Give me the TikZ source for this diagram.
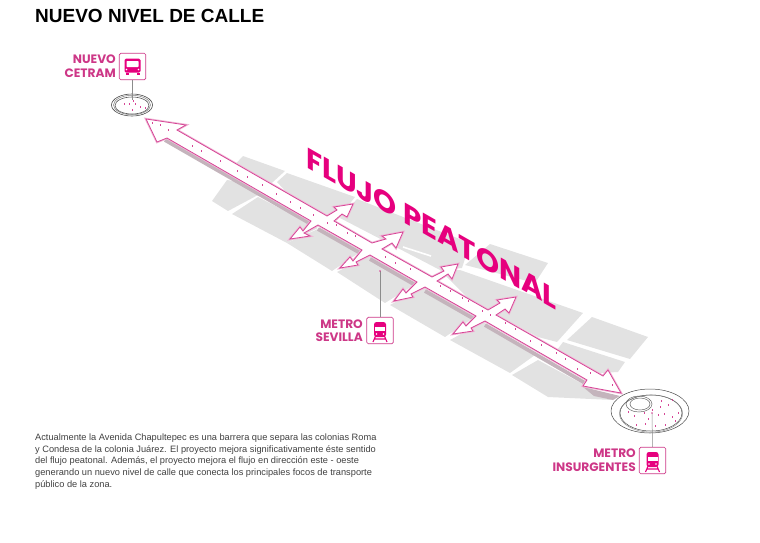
\documentclass[tikz,border=0pt]{standalone}
\usepackage{fontspec}
\usepackage{xcolor}
\usepackage{tikz}
\usetikzlibrary{shapes.geometric}
\setmainfont{Liberation Sans}
\newfontfamily\signfont{Poppins}
\definecolor{pinkflow}{RGB}{230, 0, 126}
\definecolor{pinklabel}{RGB}{205, 55, 135}
\definecolor{pinkedge}{RGB}{214, 70, 150}
\definecolor{pinksoft}{RGB}{240, 185, 215}
\definecolor{greyblock}{RGB}{226, 226, 226}
\definecolor{greyshade}{RGB}{196, 180, 188}
\tikzset{
  block/.style={fill=greyblock, draw=none},
  gap/.style={white, line width=1.6pt},
  shade/.style={greyshade, line width=3.8pt},
  labeltext/.style={text=pinklabel, font=\signfont\bfseries\fontsize{12.2}{13.6}\selectfont, align=right, anchor=east, inner sep=0pt},
  iconbox/.style={draw=pinklabel, line width=0.7pt, rounded corners=1.5pt, minimum size=26.5pt, inner sep=0pt},
  leader/.style={draw=black!45, line width=0.5pt},
  person/.style={pinkedge, line width=0.7pt}
}
\newcommand{\busicon}[1]{
\begin{scope}[shift={#1}]
\fill[pinkflow, rounded corners=1.5pt] (-8,-8) rectangle (8,6);
\fill[pinkflow] (-7,6) rectangle (-4,8.5);
\fill[pinkflow] (4,6) rectangle (7,8.5);
\fill[white, rounded corners=0.6pt] (-6,-5.5) rectangle (6,0.5);
\fill[white] (-6,3) circle (0.9);
\fill[white] (6,3) circle (0.9);
\end{scope}
}
\newcommand{\trainicon}[1]{
\begin{scope}[shift={#1}]
\draw[pinkflow, line width=1.1pt] (-4,6) -- (-7,13) (4,6) -- (7,13) (-5.4,10) -- (5.4,10);
\fill[pinkflow, rounded corners=2.5pt] (-6,-7) rectangle (6,8);
\fill[white] (-5,-2.5) rectangle (5,1.5);
\fill[white] (-3.5,5) circle (0.9);
\fill[white] (3.5,5) circle (0.9);
\end{scope}
}
\begin{document}
\begin{tikzpicture}[x=1pt,y=-1pt]
\useasboundingbox (0,0) rectangle (760,542);
\node[anchor=base west, inner sep=0pt, font=\bfseries\fontsize{19}{22}\selectfont] (title) at (35,22) {NUEVO NIVEL DE CALLE};

% bloques
\fill[block] (243,156) -- (285,171) -- (262,192) -- (228,172) -- cycle;
\fill[block] (227,180) -- (212,201) -- (228,211) -- (258,195) -- (240,182) -- cycle;
\fill[block] (232,214) -- (258,197) -- (318,228) -- (287,243) -- cycle;
\fill[block] (277,182) -- (287,173) -- (355,197) -- (337,220) -- (315,223) -- cycle;
\fill[block] (287,243) -- (320,228) -- (363,250) -- (332,271) -- cycle;
\fill[block] (357,199) -- (470,243) -- (462,268) -- (440,270) -- (392,245) -- (340,218) -- cycle;
\fill[block] (337,272) -- (370,255) -- (417,283) -- (385,303) -- cycle;
\fill[block] (490,244) -- (548,263) -- (535,283) -- (465,265) -- cycle;
\fill[block] (390,305) -- (425,287) -- (476,316) -- (445,337) -- cycle;
\fill[block] (460,270) -- (583,313) -- (557,342) -- (538,337) -- (470,300) -- (440,270) -- cycle;
\fill[block] (592,317) -- (648,337) -- (630,359) -- (567,340) -- cycle;
\fill[block] (563,342) -- (625,362) -- (618,372) -- (600,373) -- (557,350) -- cycle;
\fill[block] (450,340) -- (483,322) -- (535,355) -- (510,373) -- cycle;
\fill[block] (512,375) -- (538,360) -- (590,388) -- (613,400) -- (548,397) -- cycle;
\draw[gap] (403,247) -- (431,256);

% sombra
\draw[shade] (165,140) -- (311,224);
\draw[shade] (318,229) -- (362,254);
\draw[shade] (370,259) -- (417,286);
\draw[shade] (425,291) -- (476,320);
\draw[shade] (485,325) -- (585,383);
\fill[greyshade] (583,387) -- (620,396) -- (613,400) -- (594,396) -- cycle;

% flecha
\def\flowpath{(146,119) -- (186,125) -- (177,130) -- (327,216)
  -- (337,210) -- (334,207) -- (353,204) -- (347,217) -- (342,214) -- (334,221)
  -- (372,243) -- (386,239) -- (382,236) -- (403,232) -- (396,248) -- (392,243) -- (382,249)
  -- (432,277) -- (444,271) -- (441,267) -- (458,264) -- (452,279) -- (448,274) -- (437,281)
  -- (488,310) -- (500,303) -- (497,300) -- (516,297) -- (509,313) -- (505,309) -- (496,315)
  -- (603,376) -- (608,370) -- (621,393) -- (583,386) -- (587,380)
  -- (485,321) -- (471,328) -- (473,331) -- (453,334) -- (463,322) -- (466,326) -- (476,316)
  -- (425,287) -- (411,294) -- (413,297) -- (394,301) -- (403,289) -- (406,293) -- (417,282)
  -- (370,255) -- (356,262) -- (358,265) -- (340,268) -- (350,257) -- (353,261) -- (362,250)
  -- (318,225) -- (304,233) -- (310,236) -- (290,239) -- (300,227) -- (303,231) -- (311,221)
  -- (167,138) -- (157,142) -- cycle}
\draw[pinksoft, line width=2.4pt, line join=miter] \flowpath;
\filldraw[fill=white, draw=pinkedge, line width=0.8pt] \flowpath;

\foreach \px/\py in {152/122,160/124,168/129,192/145,201/150,220/160,237/170,247/176,262/184,276/193,290/201,300/207,313/214,
  327/222,336/224,347/232,355/235,385/256,395/262,410/268,440/285,450/290,462/297,468/300,482/310,
  490/314,505/322,515/328,530/340,541/344,556/352,565/358,577/368,590/372,612/384}
  \draw[person] (\px,\py) -- ++(0,1.8);

\node[anchor=base west, inner sep=0pt, text=pinkflow, transform shape, yslant=-0.571, font=\signfont\bfseries\fontsize{29.3}{32}\selectfont] (flujo) at (306,167) {FLUJO PEATONAL};

% glorietas
\node[draw=black!70, line width=0.6pt, ellipse, minimum width=41pt, minimum height=22pt, inner sep=0pt] (cetram) at (132,105) {};
\draw[black!65, line width=0.6pt] (132,105.5) ellipse (17 and 8.5);
\draw[black!50, line width=0.5pt] (132,105) ellipse (18.5 and 9.7);
\foreach \px/\py in {124/103,129/103,135/103,132/109,140/106,145/107,133/100}
  \draw[person] (\px,\py) -- ++(0,1.5);

\node[draw=black!70, line width=0.5pt, ellipse, minimum width=78pt, minimum height=44pt, inner sep=0pt] (insurgentes) at (650,411) {};
\draw[black!70, line width=0.5pt] (651,413) ellipse (31 and 18);
\draw[black!50, line width=0.4pt] (651,413.5) ellipse (31.6 and 18.6);
\draw[black!60, line width=0.5pt] (640,404) ellipse (10 and 6);
\draw[black!60, line width=0.5pt] (639,404) ellipse (13 and 8);
\foreach \px/\py in {628/411,634/415,644/412,652/409,660/406,668/404,664/413,672/416,678/412,675/420,
  636/424,645/423,655/425,665/424,648/418,658/414,672/399,661/400}
  \draw[person] (\px,\py) -- ++(0,1.8);

% etiquetas
\node[iconbox] (boxcetram) at (132.5,66.5) {};
\busicon{(132.5,66.5)}
\node[labeltext] (lblcetram) at (116,66) {NUEVO\\CETRAM};
\coordinate (endcetram) at (132.5,100);
\draw[leader] (boxcetram.south) -- (endcetram);

\node[iconbox] (boxsevilla) at (380,330.5) {};
\trainicon{(380,329)}
\node[labeltext] (lblsevilla) at (363,330.5) {METRO\\SEVILLA};
\coordinate (endsevilla) at (380,271);
\draw[leader] (boxsevilla.north) -- (endsevilla);
\fill[pinkedge] (endsevilla) circle (0.9);

\node[iconbox] (boxinsurgentes) at (652.5,460.5) {};
\trainicon{(652.5,459)}
\node[labeltext] (lblinsurgentes) at (636,460) {METRO\\INSURGENTES};
\coordinate (endinsurgentes) at (652,413);
\draw[leader] (boxinsurgentes.north) -- (endinsurgentes);
\fill[pinkedge] (endinsurgentes) circle (0.9);

\node[anchor=north west, inner sep=0pt, align=left, text=black!75, font=\fontsize{9.25}{11.7}\selectfont] (descripcion) at (35,433.5) {Actualmente la Avenida Chapultepec es una barrera que separa las colonias Roma\\
y Condesa de la colonia Juárez. El proyecto mejora significativamente éste sentido\\
del flujo peatonal. Además, el proyecto mejora el flujo en dirección este - oeste\\
generando un nuevo nivel de calle que conecta los principales focos de transporte\\
público de la zona.};
\end{tikzpicture}
\end{document}
